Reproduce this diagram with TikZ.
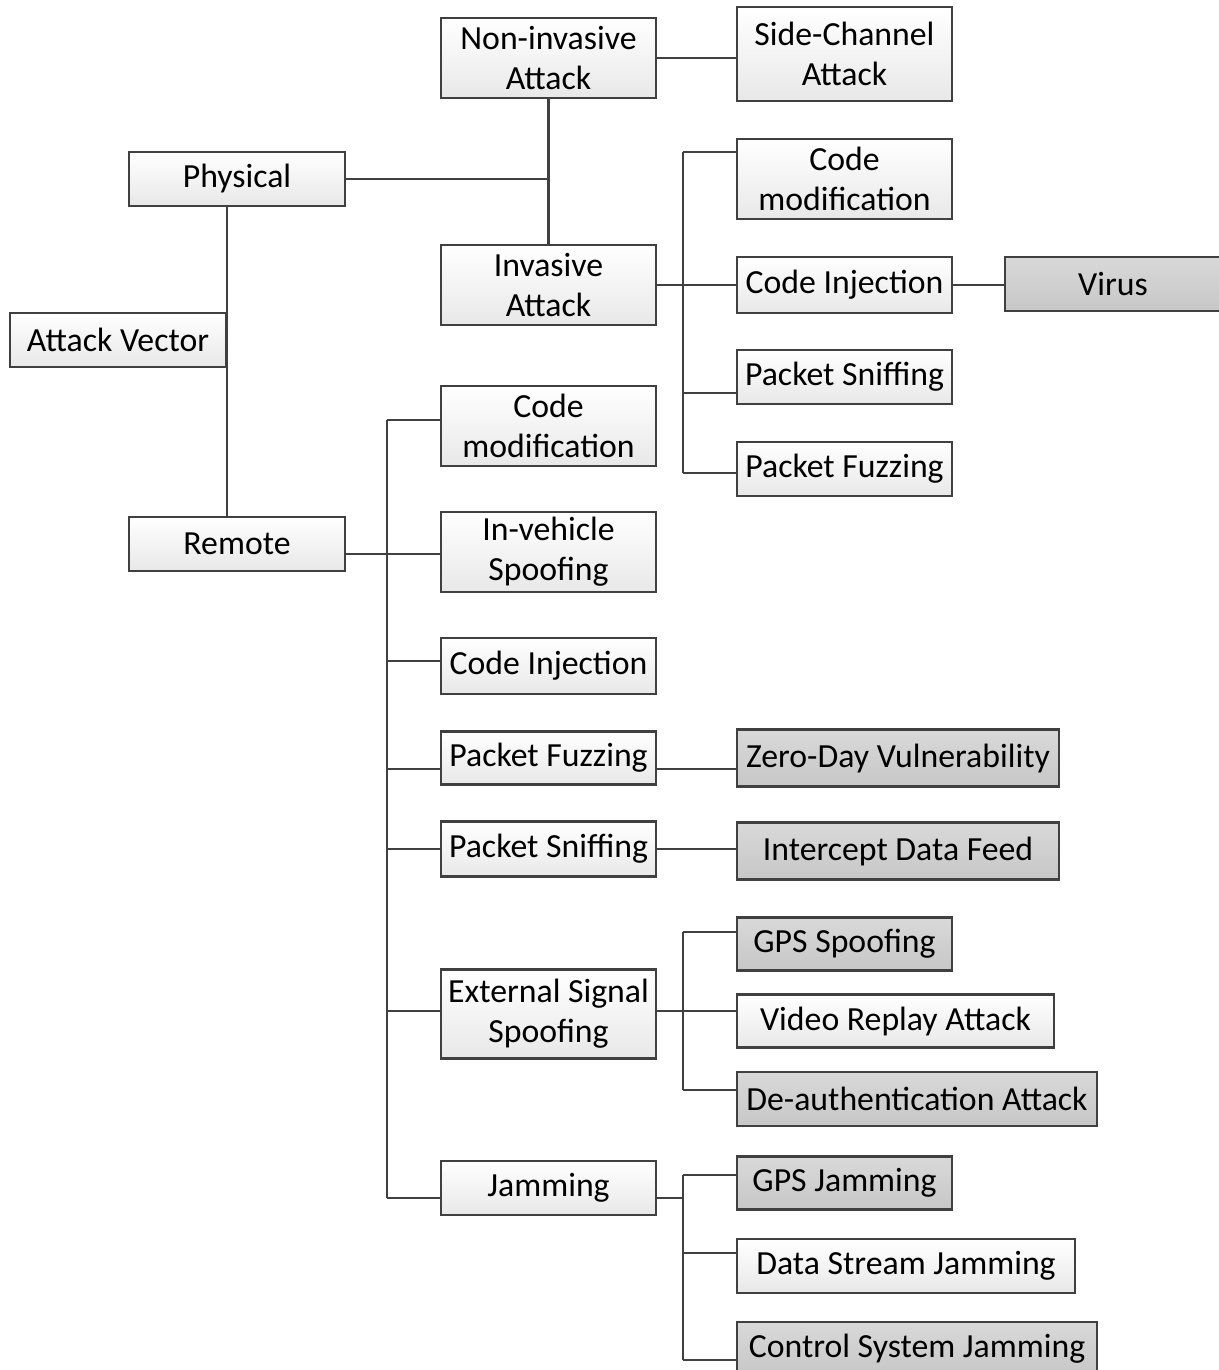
\documentclass[tikz,border=0pt]{standalone}
\usepackage{fontspec}
\setmainfont{Carlito}
\begin{document}
\begin{tikzpicture}[x=0.01cm,y=-0.01cm,
  box/.style={draw=black!75, line width=0.6pt, top color=white, bottom color=black!9,
    align=center, inner sep=0pt, font=\fontsize{9.6}{11.4}\selectfont},
  gbox/.style={box, top color=black!15, bottom color=black!22},
  link/.style={draw=black!75, line width=0.6pt}]
\useasboundingbox (0,0) rectangle (1219,1370);
% nodes
\node[box, minimum width=2.15cm, minimum height=0.80cm] (ni) at (548.5,58) {Non-invasive\\Attack};
\node[box, minimum width=2.15cm, minimum height=0.94cm] (sc) at (844.5,54) {Side-Channel\\Attack};
\node[box, minimum width=2.16cm, minimum height=0.54cm] (ph) at (237,179) {Physical};
\node[box, minimum width=2.15cm, minimum height=0.80cm] (inv) at (548.5,285) {Invasive\\Attack};
\node[box, minimum width=2.15cm, minimum height=0.80cm] (cm1) at (844.5,179) {Code\\modification};
\node[box, minimum width=2.15cm, minimum height=0.56cm] (ci1) at (844.5,285) {Code Injection};
\node[gbox, minimum width=2.16cm, minimum height=0.54cm] (vir) at (1113,284) {Virus};
\node[box, minimum width=2.15cm, minimum height=0.54cm] (ps1) at (844.5,377) {Packet Sniffing};
\node[box, minimum width=2.15cm, minimum height=0.54cm] (pf1) at (844.5,469) {Packet Fuzzing};
\node[box, minimum width=2.16cm, minimum height=0.54cm] (av) at (118,340) {Attack Vector};
\node[box, minimum width=2.15cm, minimum height=0.80cm] (cm2) at (548.5,426) {Code\\modification};
\node[box, minimum width=2.16cm, minimum height=0.54cm] (rem) at (237,544) {Remote};
\node[box, minimum width=2.15cm, minimum height=0.80cm] (iv) at (548.5,552) {In-vehicle\\Spoofing};
\node[box, minimum width=2.15cm, minimum height=0.56cm] (ci2) at (548.5,666) {Code Injection};
\node[box, minimum width=2.15cm, minimum height=0.53cm] (pf2) at (548.5,758) {Packet Fuzzing};
\node[gbox, minimum width=3.22cm, minimum height=0.57cm] (zd) at (898,758) {Zero-Day Vulnerability};
\node[box, minimum width=2.15cm, minimum height=0.55cm] (ps2) at (548.5,849) {Packet Sniffing};
\node[gbox, minimum width=3.22cm, minimum height=0.57cm] (idf) at (898,851) {Intercept Data Feed};
\node[box, minimum width=2.15cm, minimum height=0.89cm] (ess) at (548.5,1014) {External Signal\\Spoofing};
\node[gbox, minimum width=2.15cm, minimum height=0.53cm] (gps) at (844.5,944) {GPS Spoofing};
\node[box, minimum width=3.17cm, minimum height=0.53cm] (vra) at (895.5,1021) {Video Replay Attack};
\node[gbox, minimum width=3.60cm, minimum height=0.54cm] (dea) at (917,1099) {De-authentication Attack};
\node[box, minimum width=2.15cm, minimum height=0.54cm] (jam) at (548.5,1188) {Jamming};
\node[gbox, minimum width=2.15cm, minimum height=0.53cm] (gj) at (844.5,1183) {GPS Jamming};
\node[box, minimum width=3.38cm, minimum height=0.54cm] (dsj) at (906,1266) {Data Stream Jamming};
\node[gbox, minimum width=3.60cm, minimum height=0.54cm] (csj) at (917,1349) {Control System Jamming};
% hub coordinates
\coordinate (pj) at (548.5,179);
\coordinate (h1) at (683,285);
\coordinate (h1t) at (683,152);
\coordinate (h1s) at (683,393);
\coordinate (h1b) at (683,473);
\coordinate (r0) at (387,554);
\coordinate (r1) at (387,420);
\coordinate (r3) at (387,661);
\coordinate (r4) at (387,769);
\coordinate (r5) at (387,849);
\coordinate (r6) at (387,1011);
\coordinate (r7) at (387,1198);
\coordinate (e0) at (683,1011);
\coordinate (e1) at (683,932);
\coordinate (e3) at (683,1090);
\coordinate (j0) at (683,1198);
\coordinate (j1) at (683,1175);
\coordinate (j2) at (683,1253);
\coordinate (j3) at (683,1360);
% connectors
\draw[link] (ni.east) -- (ni.east -| sc.west);
\draw[link] (ni.south) -- (inv.north);
\draw[link] (ph.east) -- (pj);
\draw[link] (av.east |- ph.south) -- (av.east |- rem.north);
\draw[link] (inv.east) -- (h1) -- (h1 -| ci1.west);
\draw[link] (h1t) -- (h1b);
\draw[link] (h1t) -- (h1t -| cm1.west);
\draw[link] (h1s) -- (h1s -| ps1.west);
\draw[link] (h1b) -- (h1b -| pf1.west);
\draw[link] (ci1.east) -- (ci1.east -| vir.west);
\draw[link] (rem.east |- r0) -- (r0) -- (r0 -| iv.west);
\draw[link] (r1) -- (r7);
\draw[link] (r1) -- (r1 -| cm2.west);
\draw[link] (r3) -- (r3 -| ci2.west);
\draw[link] (r4) -- (r4 -| pf2.west);
\draw[link] (r5) -- (r5 -| ps2.west);
\draw[link] (r6) -- (r6 -| ess.west);
\draw[link] (r7) -- (r7 -| jam.west);
\draw[link] (r4 -| pf2.east) -- (r4 -| zd.west);
\draw[link] (r5 -| ps2.east) -- (r5 -| idf.west);
\draw[link] (e0 -| ess.east) -- (e0) -- (e0 -| vra.west);
\draw[link] (e1) -- (e3);
\draw[link] (e1) -- (e1 -| gps.west);
\draw[link] (e3) -- (e3 -| dea.west);
\draw[link] (j0 -| jam.east) -- (j0);
\draw[link] (j1) -- (j3);
\draw[link] (j1) -- (j1 -| gj.west);
\draw[link] (j2) -- (j2 -| dsj.west);
\draw[link] (j3) -- (j3 -| csj.west);
\end{tikzpicture}
\end{document}
